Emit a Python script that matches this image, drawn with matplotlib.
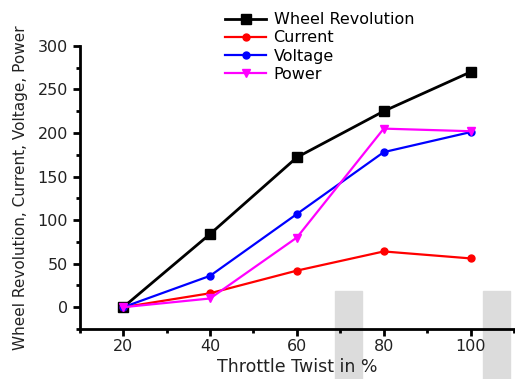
import matplotlib
matplotlib.use('Agg')
import matplotlib.pyplot as plt
from matplotlib.patches import Rectangle
from matplotlib.ticker import MultipleLocator

plt.rcParams['font.family'] = ['DejaVu Sans']

# throttle twist (%) and the four measured series
throttle = [20, 40, 60, 80, 100]
wheel_rev = [0, 84, 172, 225, 270]
current = [0, 16, 42, 64, 56]
voltage = [0, 36, 107, 178, 201]
power = [0, 10, 80, 205, 202]

fig = plt.figure(figsize=(5.15, 3.79), dpi=100)
ax = fig.add_axes([0.155, 0.132, 0.843, 0.747])
ax.set_facecolor('none')

ax.plot(throttle, wheel_rev, color='black', marker='s', ms=7, lw=2, label='Wheel Revolution')
ax.plot(throttle, current, color='red', marker='o', ms=5, lw=1.6, label='Current')
ax.plot(throttle, voltage, color='blue', marker='o', ms=5, lw=1.6, label='Voltage')
ax.plot(throttle, power, color='magenta', marker='v', ms=5.5, lw=1.6, label='Power')

ax.set_xlim(10, 110)
ax.set_ylim(-25, 300)
ax.xaxis.set_major_locator(MultipleLocator(20))
ax.xaxis.set_minor_locator(MultipleLocator(10))
ax.yaxis.set_major_locator(MultipleLocator(50))
ax.yaxis.set_minor_locator(MultipleLocator(25))

for s in ['top', 'right']:
    ax.spines[s].set_visible(False)
for s in ['left', 'bottom']:
    ax.spines[s].set_linewidth(2)
ax.tick_params(which='major', length=5, width=2, labelsize=11.5, colors='black')
ax.tick_params(axis='x', which='major', pad=2)
ax.tick_params(which='minor', length=3, width=2)
for t in ax.get_xticklabels() + ax.get_yticklabels():
    t.set_color('#222222')

ax.set_xlabel('Throttle Twist in %', fontsize=12.5, labelpad=3, color='#222222')
ax.set_ylabel('Wheel Revolution, Current, Voltage, Power', fontsize=11,
              labelpad=7, color='#222222')

fig.legend(loc='upper left', bbox_to_anchor=(0.418, 0.993), frameon=False,
           fontsize=11.5, handlelength=2.6, handletextpad=0.45, labelspacing=0.2,
           borderaxespad=0.2)

# light grey blocks along the bottom edge
for x0 in [335, 483]:
    fig.add_artist(Rectangle((x0 / 515, 0), 27 / 515, 88 / 379,
                             transform=fig.transFigure, color='#dcdcdc', zorder=-1))

fig.savefig('out.png', dpi=100)
